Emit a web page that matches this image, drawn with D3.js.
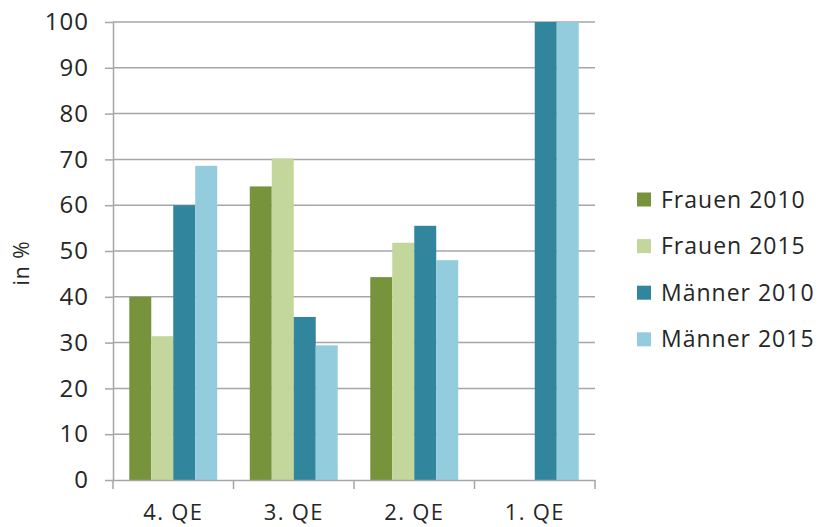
<!DOCTYPE html>
<html><head><meta charset="utf-8">
<script src="https://cdn.jsdelivr.net/npm/d3@7"></script>
<style>
html,body{margin:0;padding:0;background:#fff;}
text{font-family:"Open Sans",sans-serif;fill:#262626;}
</style></head>
<body><svg id="c" width="821" height="527"></svg>
<script>
const categories = ["4. QE","3. QE","2. QE","1. QE"];
const seriesNames = ["Frauen 2010","Frauen 2015","Männer 2010","Männer 2015"];
const frauen2010 = [40, 64.1, 44.3, null];
const frauen2015 = [31.4, 70.2, 51.8, null];
const maenner2010 = [60, 35.6, 55.5, 100];
const maenner2015 = [68.6, 29.4, 48.0, 100];
const yTicks = [0,10,20,30,40,50,60,70,80,90,100];
const colors = ["#77933C","#C3D69B","#31859C","#93CDDD"];
const seriesValues = [frauen2010, frauen2015, maenner2010, maenner2015];

(function(){
const svg = d3.select("#c");
const mLeft = 113, mRight = 595, mTop = 22, mBottom = 480;
const x = d3.scaleBand().domain(categories).range([mLeft, mRight]).paddingInner(0).paddingOuter(0);
const xs = d3.scaleBand().domain(seriesNames).range([0, x.bandwidth()]).paddingInner(0).paddingOuter(0.74);
const y = d3.scaleLinear().domain([0,100]).range([mBottom, mTop]);

// gridlines
svg.append("g").selectAll("line").data(yTicks.filter(d=>d>0)).join("line")
  .attr("x1", mLeft).attr("x2", mRight)
  .attr("y1", d=>y(d)).attr("y2", d=>y(d))
  .attr("stroke","#a6a6a6").attr("stroke-width",1.5);

// bars
const groups = svg.append("g").selectAll("g").data(categories).join("g")
  .attr("transform", d=>`translate(${x(d)},0)`);
groups.selectAll("rect").data((c,i)=>seriesNames.map((s,j)=>({s, v: seriesValues[j][i], j})).filter(d=>d.v!=null))
  .join("rect")
  .attr("x", d=>xs(d.s)).attr("width", xs.bandwidth())
  .attr("y", d=>y(d.v)).attr("height", d=>y(0)-y(d.v))
  .attr("fill", d=>colors[d.j]);

// y axis
const yAxis = d3.axisLeft(y).tickValues(yTicks).tickSize(8).tickPadding(16).tickSizeOuter(0);
const gy = svg.append("g").attr("transform",`translate(${mLeft},0)`).call(yAxis);
gy.select(".domain").attr("stroke","#a6a6a6").attr("stroke-width",1.5);
gy.selectAll(".tick line").attr("stroke","#a6a6a6").attr("stroke-width",1.5);
gy.selectAll(".tick text").attr("font-size",24).attr("letter-spacing","1px")
  .attr("font-family","Open Sans").attr("fill","#262626");

// x axis
const gx = svg.append("g").attr("transform",`translate(0,${mBottom})`)
  .call(d3.axisBottom(x).tickSize(0).tickPadding(24).tickSizeOuter(0));
gx.select(".domain").attr("stroke","#a6a6a6").attr("stroke-width",1.5);
gx.selectAll(".tick text").attr("font-size",22).attr("letter-spacing","1.3px")
  .attr("font-family","Open Sans").attr("fill","#262626");
// category boundary ticks
const bounds = categories.map(c=>x(c)).concat([mRight]);
svg.append("g").selectAll("line").data(bounds).join("line")
  .attr("x1",d=>d).attr("x2",d=>d).attr("y1",mBottom).attr("y2",mBottom+9)
  .attr("stroke","#a6a6a6").attr("stroke-width",1.5);

// y label
svg.append("text").attr("transform",`translate(29,263) rotate(-90)`)
  .attr("text-anchor","middle").attr("font-size",21).attr("letter-spacing","1px").text("in %");

// legend
const lg = svg.append("g").selectAll("g").data(seriesNames).join("g")
  .attr("transform",(d,i)=>`translate(637,${199.5+i*46.6})`);
lg.append("rect").attr("x",0).attr("y",-7).attr("width",14).attr("height",14).attr("fill",(d,i)=>colors[i]);
lg.append("text").attr("x",24).attr("y",0).attr("dy","0.35em").attr("font-size",23).attr("letter-spacing","1px").text(d=>d);
})();
</script></body></html>
